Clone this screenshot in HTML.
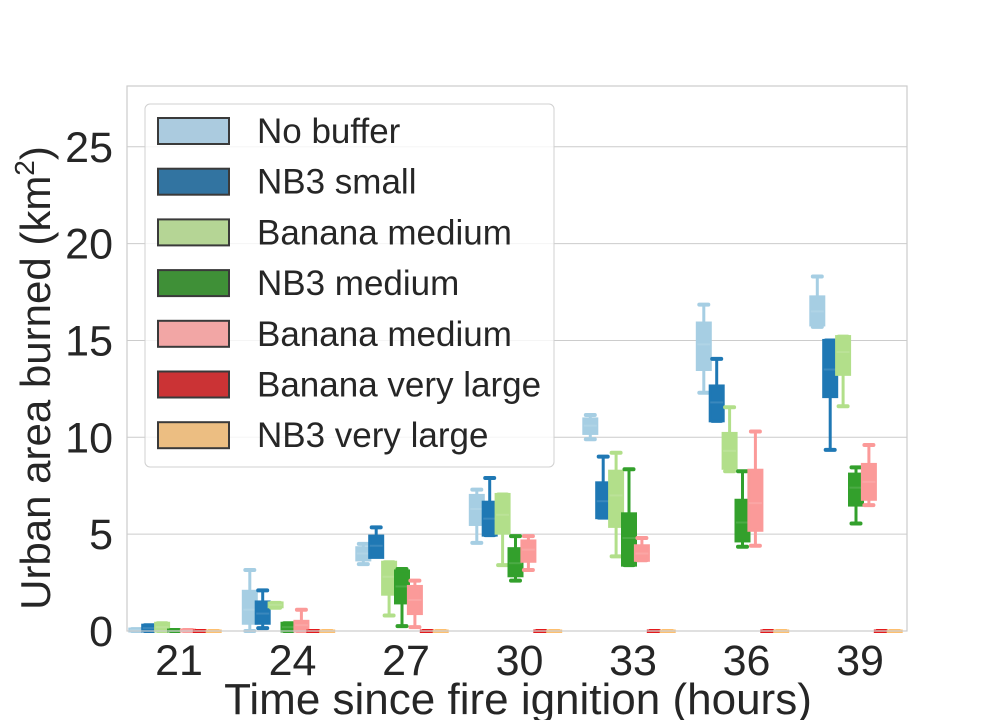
<!DOCTYPE html>
<html><head><meta charset="utf-8"><style>
body{margin:0;background:#fff}
svg text{font-family:"Liberation Sans","DejaVu Sans",sans-serif;fill:#262626}
</style></head><body>
<svg id="c" width="1008" height="720" viewBox="0 0 1008 720" xmlns="http://www.w3.org/2000/svg"></svg>
<script>
const categories = ["21","24","27","30","33","36","39"];
const seriesNames = ["No buffer","NB3 small","Banana medium","NB3 medium","Banana medium","Banana very large","NB3 very large"];
const colors = ["#a6cee3","#1f78b4","#b2df8a","#33a02c","#fb9a99","#e31a1c","#fdbf6f"];
const legendColors = ["#abcbdf","#3274a1","#b5d595","#3f9037","#f2a6a5","#cb3335","#ecbe82"];
const yTicks = [0,5,10,15,20,25];
// per series: [lo, q1, med, q3, hi] for each category
const noBuffer = [[0,0,0.05,0.1,0.1],[0,0.4,1.1,2.05,3.15],[3.45,3.67,4.0,4.3,4.5],[4.55,5.5,6.3,7.0,7.3],[9.9,10.2,10.6,10.95,11.15],[12.3,13.5,14.8,15.9,16.85],[15.7,15.8,16.5,17.25,18.3]];
const nb3Small = [[0,0,0.15,0.3,0.3],[0.15,0.4,0.9,1.5,2.1],[3.85,3.8,4.4,4.9,5.35],[4.95,4.95,5.8,6.65,7.9],[5.85,5.85,6.7,7.65,9.0],[10.85,10.85,11.8,12.65,14.05],[9.35,12.1,13.5,15.0,15.0]];
const bananaMed = [[0,0,0.2,0.4,0.4],[1.2,1.25,1.35,1.45,1.45],[0.8,1.9,2.8,3.55,3.55],[3.4,5.05,6.0,7.05,7.05],[3.85,5.4,7.0,8.25,9.2],[8.25,8.4,9.3,10.2,11.55],[11.6,13.25,14.4,15.2,15.2]];
const nb3Med = [[0,0,0,0.05,0.05],[0,0,0.2,0.4,0.4],[0.25,1.45,2.3,3.1,3.2],[2.6,2.85,3.5,4.25,4.9],[3.4,3.4,4.8,6.05,8.35],[4.35,4.65,5.6,6.75,8.25],[5.55,6.5,7.4,8.1,8.45]];
const bananaPink = [[0,0,0,0.05,0.05],[0,0,0.3,0.5,1.1],[0.2,0.9,1.6,2.3,2.6],[3.15,3.6,4.2,4.65,4.9],[3.65,3.65,4.0,4.4,4.8],[4.4,5.2,6.6,8.3,10.3],[6.5,6.8,7.7,8.6,9.6]];
const bananaVL = [[0,0,0,0,0],[0,0,0,0,0],[0,0,0,0,0],[0,0,0,0,0],[0,0,0,0,0],[0,0,0,0,0],[0,0,0,0,0]];
const nb3VL = [[0,0,0,0,0],[0,0,0,0,0],[0,0,0,0,0],[0,0,0,0,0],[0,0,0,0,0],[0,0,0,0,0],[0,0,0,0,0]];
const allSeries = [noBuffer,nb3Small,bananaMed,nb3Med,bananaPink,bananaVL,nb3VL];

const svg=document.getElementById('c');
const NS='http://www.w3.org/2000/svg';
function mk(tag,attrs,parent){const e=document.createElementNS(NS,tag);for(const k in attrs)e.setAttribute(k,attrs[k]);(parent||svg).appendChild(e);return e;}
const L=127,R=907,T=86,B=631;
const y=v=>B-v*19.37;
const xC=i=>175+i*113.5;
const boxW=13, off=12.9;

yTicks.forEach(t=>{
  const g=mk('line',{x1:L,x2:R,y1:y(t),y2:y(t),stroke:'#cccccc','stroke-width':1});
  
  
  const tx=mk('text',{x:113,y:y(t)+15,'text-anchor':'end','font-size':43});
  tx.textContent=t;
  
  
});
categories.forEach((c,i)=>{
  const tx=mk('text',{x:xC(i)+4,y:675,'text-anchor':'middle','font-size':43});
  tx.textContent=c;
  
  
});

allSeries.forEach((s,si)=>{
  const col=colors[si];
  s.forEach((d,ci)=>{
    const cx=xC(ci)+(si-3)*off;
    const g=mk('g',{});
    
    
    const [lo,q1,med,q3,hi]=d;
    mk('line',{x1:cx,x2:cx,y1:y(hi),y2:y(q3),stroke:col,'stroke-width':3},g);
    mk('line',{x1:cx,x2:cx,y1:y(q1),y2:y(lo),stroke:col,'stroke-width':3},g);
    mk('line',{x1:cx-4.5,x2:cx+4.5,y1:y(hi),y2:y(hi),stroke:col,'stroke-width':4,'stroke-linecap':'round'},g);
    mk('line',{x1:cx-4.5,x2:cx+4.5,y1:y(lo),y2:y(lo),stroke:col,'stroke-width':4,'stroke-linecap':'round'},g);
    const h=Math.max(y(q1)-y(q3),0.5);
    mk('rect',{x:cx-boxW/2,y:y(q3),width:boxW,height:h,fill:col,stroke:col,'stroke-width':3},g);
    mk('line',{x1:cx-boxW/2,x2:cx+boxW/2,y1:y(med),y2:y(med),stroke:'#ffffff','stroke-opacity':0.12,'stroke-width':2},g);
  });
});

const fr=mk('rect',{x:L,y:T,width:R-L,height:B-T,fill:'none',stroke:'#cccccc','stroke-width':1.2});



const lg=mk('g',{});


mk('rect',{x:145,y:104,width:409,height:363,rx:5,fill:'#ffffff','fill-opacity':0.8,stroke:'#d0d0d0','stroke-width':1},lg);
seriesNames.forEach((n,i)=>{
  const e=mk('g',{},lg);
  
  
  const yy=118+i*50.7;
  mk('rect',{x:158,y:yy,width:71,height:26,fill:legendColors[i],stroke:'#3a3a3a','stroke-width':2},e);
  const t=mk('text',{x:257,y:yy+25,'font-size':35},e);
  t.textContent=n;
});

const xt=mk('text',{x:518,y:714,'text-anchor':'middle','font-size':44});
xt.textContent='Time since fire ignition (hours)';


const yt=mk('text',{x:0,y:0,'text-anchor':'middle','font-size':42,transform:'translate(50,378) rotate(-90)'});
yt.innerHTML='Urban area burned (km<tspan dy="-16" font-size="28">2</tspan><tspan dy="16">)</tspan>';


</script>
</body></html>
